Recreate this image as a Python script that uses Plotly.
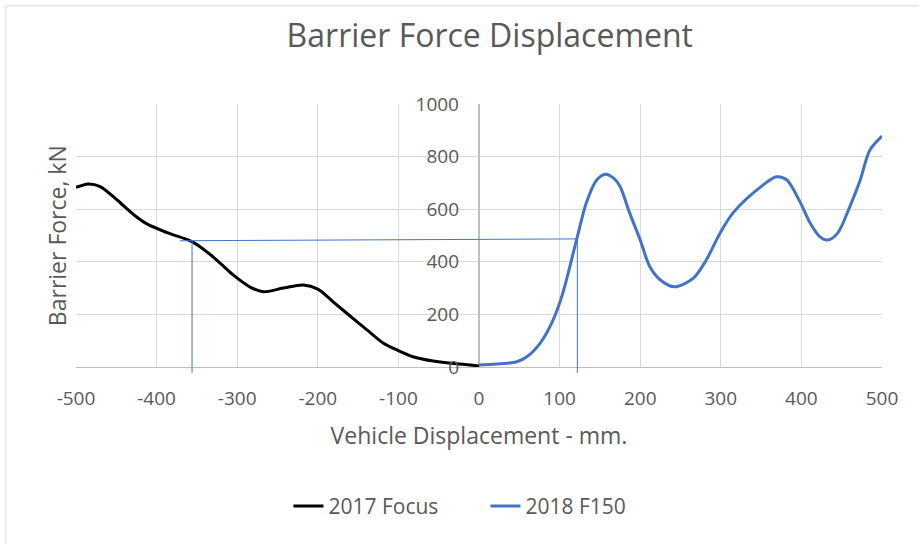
import plotly.graph_objects as go

# 2017 Focus (black)
focus_x = [-500, -485, -470, -449, -428, -412, -387, -355, -330, -305, -284, -268, -243,
           -218, -200, -181, -160, -139, -119, -102, -82, -57, -24, 0]
focus_y = [683, 696, 686, 635, 578, 544, 511, 475, 419, 350, 304, 286, 300,
           312, 296, 248, 194, 141, 91, 65, 39, 23, 11, 4]

# 2018 F150 (blue)
f150_x = [0, 47, 59, 76, 92, 104, 121, 133, 146, 157, 167, 175, 187, 200, 212, 225, 243,
          266, 282, 299, 315, 340, 369, 382, 399, 411, 423, 433, 445, 460, 473, 485, 500]
f150_y = [8, 20, 38, 91, 179, 281, 483, 623, 711, 733, 718, 686, 585, 483, 381, 331, 305,
          338, 407, 509, 585, 661, 723, 711, 623, 547, 495, 483, 509, 609, 711, 825, 878]

# helper lines: equal force on both curves
ref_force = [480, 487]
ref_x = [-371, 121]
ref_drop_x = [-356, 122]

x_ticks = list(range(-500, 501, 100))
x_labels = [str(v) for v in x_ticks]  # plain hyphen, like Excel
y_ticks = list(range(0, 1001, 200))

grey = "#595959"
font = "Open Sans"

fig = go.Figure()
fig.add_trace(go.Scatter(x=focus_x, y=focus_y, mode="lines", name="2017 Focus",
                         line=dict(color="black", width=3, shape="spline", smoothing=0.85)))
fig.add_trace(go.Scatter(x=f150_x, y=f150_y, mode="lines", name="2018 F150",
                         line=dict(color="#4472c4", width=3, shape="spline", smoothing=0.85)))

y_lo, y_hi = 0, 1000
shapes = [
    dict(type="line", xref="x", yref="y", x0=ref_x[0], x1=ref_x[1],
         y0=ref_force[0], y1=ref_force[1], line=dict(color="#4472c4", width=1)),
]
for xv, fv in zip(ref_drop_x, ref_force):
    shapes.append(dict(type="line", xref="x", yref="y domain", x0=xv, x1=xv,
                       y0=(fv - y_lo) / (y_hi - y_lo), y1=-0.022,
                       line=dict(color="#4472c4", width=1)))
# chart frame
shapes.append(dict(type="rect", xref="paper", yref="paper", x0=-0.087, x1=1.3,
                   y0=-0.9, y1=1.373, line=dict(color="#d9d9d9", width=1), layer="below"))

fig.update_layout(
    width=919, height=544,
    margin=dict(l=76, r=37, t=104, b=177),
    paper_bgcolor="white", plot_bgcolor="white",
    font=dict(family=font, color=grey, size=19),
    title=dict(text="Barrier Force Displacement", x=0.533, xanchor="center",
               y=0.935, yanchor="middle", font=dict(size=32, color=grey)),
    xaxis=dict(range=[-500, 500], tickvals=x_ticks, ticktext=x_labels,
               showgrid=True, gridcolor="#d9d9d9",
               zeroline=True, zerolinecolor="#bfbfbf", zerolinewidth=1.5,
               showline=True, linecolor="#bfbfbf", ticks="", ticklabelstandoff=14,
               tickfont=dict(size=19),
               title=dict(text="Vehicle Displacement - mm.", font=dict(size=23), standoff=18)),
    yaxis=dict(range=[y_lo, y_hi], tickvals=y_ticks, showgrid=True, gridcolor="#d9d9d9",
               zeroline=False, anchor="free", position=0.5, ticks="",
               ticklabelstandoff=20, tickfont=dict(size=19)),
    legend=dict(orientation="h", x=0.508, xanchor="center", y=-0.53, yanchor="middle",
                font=dict(size=21), entrywidth=152),
    shapes=shapes,
    annotations=[dict(text="Barrier Force, kN", xref="paper", yref="paper",
                      x=-0.024, y=0.5, textangle=-90, showarrow=False,
                      xanchor="center", yanchor="middle", font=dict(size=23))],
    showlegend=True,
)

fig.write_html("out.html", config={"displayModeBar": False},
               post_script="document.body.style.margin='0';")
